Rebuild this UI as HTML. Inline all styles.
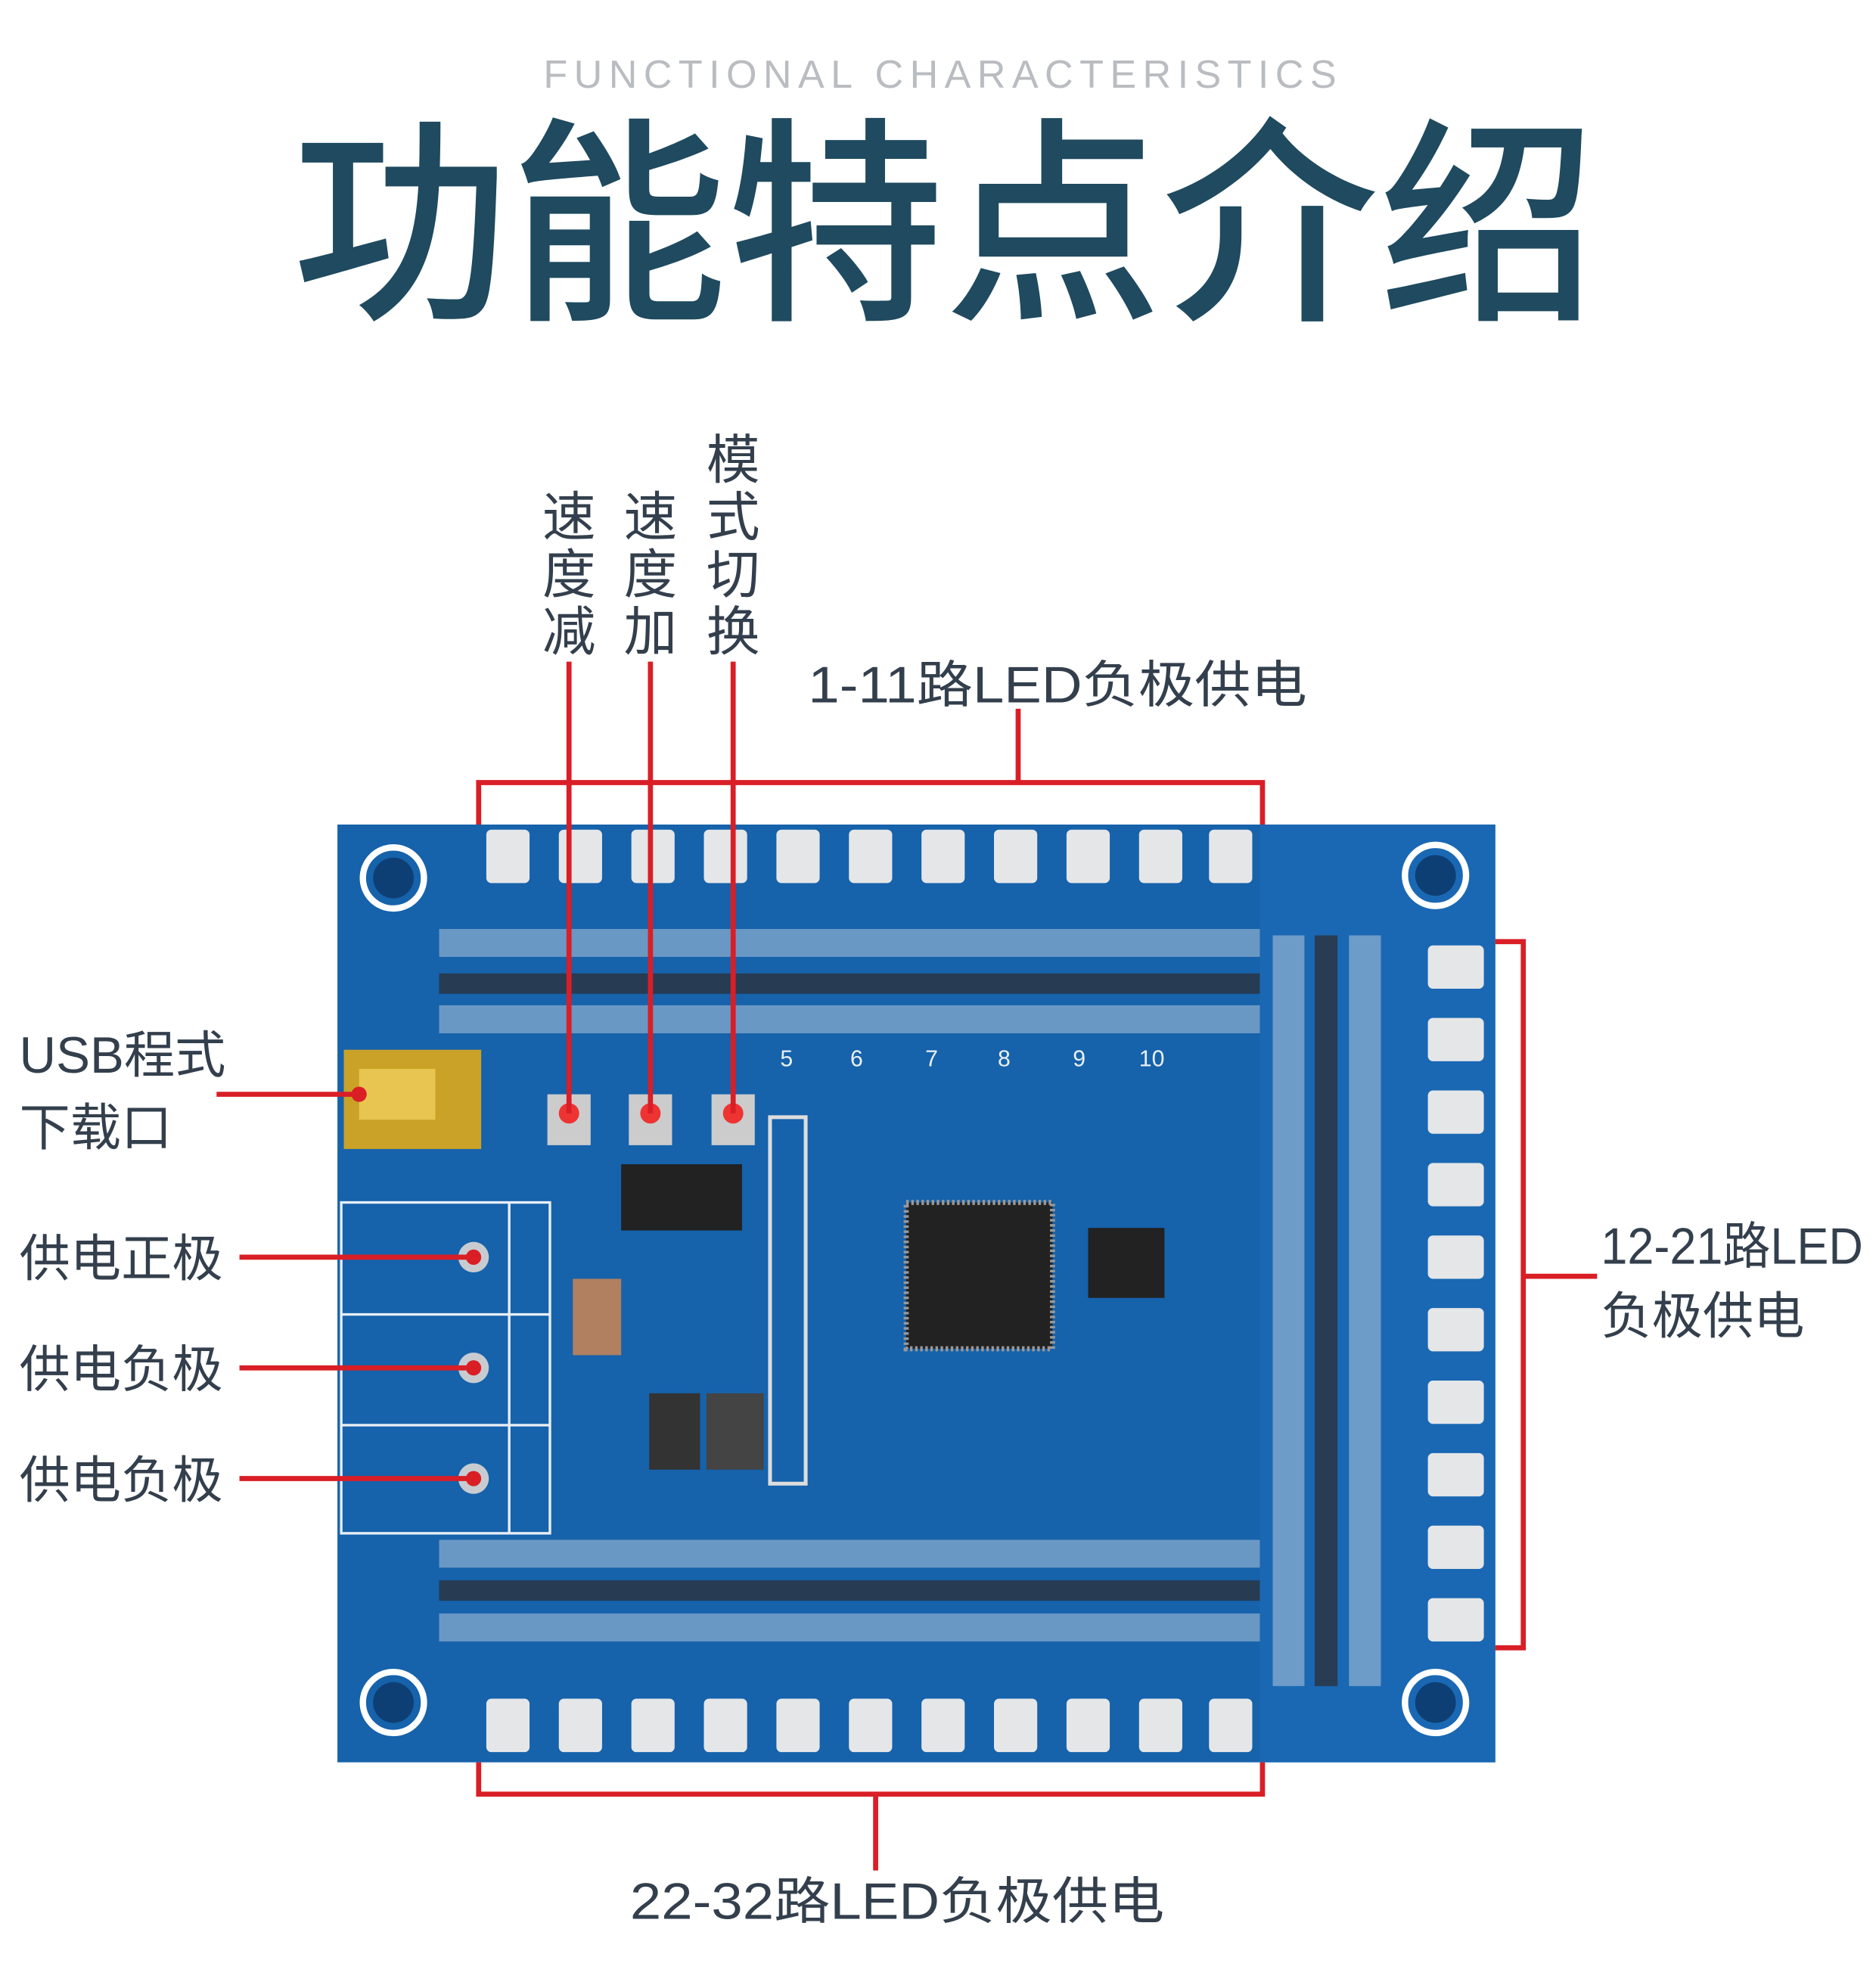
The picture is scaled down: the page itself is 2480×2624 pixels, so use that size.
<!DOCTYPE html>
<html><head><meta charset="utf-8"><style>
html,body{margin:0;padding:0;background:#fff}
svg{display:block}
text{font-family:"Liberation Sans","Noto Sans CJK SC",sans-serif}
</style></head><body>
<svg width="2480" height="2624" viewBox="0 0 1474 1560" xmlns="http://www.w3.org/2000/svg">
<rect width="1474" height="1560" fill="#fff"/>
<text x="741" y="69" text-anchor="middle" font-size="31" fill="#b9bcc0" letter-spacing="5">FUNCTIONAL CHARACTERISTICS</text>
<text x="742" y="238" text-anchor="middle" font-size="172" font-weight="500" fill="#1f4a5f" textLength="1025" lengthAdjust="spacingAndGlyphs">功能特点介绍</text>

<rect x="265" y="648" width="910" height="737" fill="#1662ab"/>
<rect x="990" y="648" width="185" height="737" fill="#1a68b3"/>
<g fill="none" stroke="#fff" stroke-width="5">
<circle cx="309" cy="690" r="24"/><circle cx="1128" cy="688" r="24"/>
<circle cx="309" cy="1338" r="24"/><circle cx="1128" cy="1338" r="24"/>
</g>
<g fill="#0e3f74"><circle cx="309" cy="690" r="16"/><circle cx="1128" cy="688" r="16"/><circle cx="309" cy="1338" r="16"/><circle cx="1128" cy="1338" r="16"/></g>
<g fill="#e4e6e8">
<rect x="382" y="652" width="34" height="42" rx="4"/><rect x="439" y="652" width="34" height="42" rx="4"/><rect x="496" y="652" width="34" height="42" rx="4"/><rect x="553" y="652" width="34" height="42" rx="4"/><rect x="610" y="652" width="34" height="42" rx="4"/><rect x="667" y="652" width="34" height="42" rx="4"/><rect x="724" y="652" width="34" height="42" rx="4"/><rect x="781" y="652" width="34" height="42" rx="4"/><rect x="838" y="652" width="34" height="42" rx="4"/><rect x="895" y="652" width="34" height="42" rx="4"/><rect x="950" y="652" width="34" height="42" rx="4"/>
<rect x="382" y="1335" width="34" height="42" rx="4"/><rect x="439" y="1335" width="34" height="42" rx="4"/><rect x="496" y="1335" width="34" height="42" rx="4"/><rect x="553" y="1335" width="34" height="42" rx="4"/><rect x="610" y="1335" width="34" height="42" rx="4"/><rect x="667" y="1335" width="34" height="42" rx="4"/><rect x="724" y="1335" width="34" height="42" rx="4"/><rect x="781" y="1335" width="34" height="42" rx="4"/><rect x="838" y="1335" width="34" height="42" rx="4"/><rect x="895" y="1335" width="34" height="42" rx="4"/><rect x="950" y="1335" width="34" height="42" rx="4"/>
<rect x="1122" y="743" width="44" height="34" rx="4"/><rect x="1122" y="800" width="44" height="34" rx="4"/><rect x="1122" y="857" width="44" height="34" rx="4"/><rect x="1122" y="914" width="44" height="34" rx="4"/><rect x="1122" y="971" width="44" height="34" rx="4"/><rect x="1122" y="1028" width="44" height="34" rx="4"/><rect x="1122" y="1085" width="44" height="34" rx="4"/><rect x="1122" y="1142" width="44" height="34" rx="4"/><rect x="1122" y="1199" width="44" height="34" rx="4"/><rect x="1122" y="1256" width="44" height="34" rx="4"/>
</g>
<g fill="#2b3444" opacity="0.85">
<rect x="345" y="730" width="645" height="22" fill="#dfe3e8" opacity="0.5"/>
<rect x="345" y="765" width="645" height="16"/>
<rect x="345" y="790" width="645" height="22" fill="#dfe3e8" opacity="0.5"/>
<rect x="345" y="1210" width="645" height="22" fill="#dfe3e8" opacity="0.5"/>
<rect x="345" y="1242" width="645" height="16"/>
<rect x="345" y="1268" width="645" height="22" fill="#dfe3e8" opacity="0.5"/>
<rect x="1000" y="735" width="25" height="590" fill="#dfe3e8" opacity="0.5"/>
<rect x="1033" y="735" width="18" height="590"/>
<rect x="1060" y="735" width="25" height="590" fill="#dfe3e8" opacity="0.5"/>
</g>
<rect x="270" y="825" width="108" height="78" fill="#c9a227"/>
<rect x="282" y="840" width="60" height="40" fill="#e8c550"/>
<g fill="none" stroke="#e8eef5" stroke-width="2">
<rect x="268" y="945" width="164" height="260"/>
<line x1="268" y1="1033" x2="432" y2="1033"/><line x1="268" y1="1120" x2="432" y2="1120"/>
<line x1="400" y1="945" x2="400" y2="1205"/>
</g>
<g fill="#c8ccd0"><circle cx="372" cy="988" r="12"/><circle cx="372" cy="1075" r="12"/><circle cx="372" cy="1162" r="12"/></g>
<g fill="#ccc"><rect x="430" y="860" width="34" height="40"/><rect x="494" y="860" width="34" height="40"/><rect x="559" y="860" width="34" height="40"/></g>
<g fill="#e33"><circle cx="447" cy="875" r="8"/><circle cx="511" cy="875" r="8"/><circle cx="576" cy="875" r="8"/></g>
<rect x="488" y="915" width="95" height="52" fill="#222"/>
<rect x="712" y="945" width="115" height="115" fill="#222" stroke="#999" stroke-width="4" stroke-dasharray="2 2"/>
<rect x="855" y="965" width="60" height="55" fill="#222"/>
<rect x="605" y="878" width="28" height="288" fill="none" stroke="#ddd" stroke-width="3"/>
<rect x="510" y="1095" width="40" height="60" fill="#333"/><rect x="555" y="1095" width="45" height="60" fill="#444"/>
<rect x="450" y="1005" width="38" height="60" fill="#b08060"/>
<g fill="#fff" font-size="18" opacity="0.9">
<text x="613" y="838">5</text><text x="668" y="838">6</text><text x="727" y="838">7</text><text x="784" y="838">8</text><text x="843" y="838">9</text><text x="895" y="838">10</text>
</g>
<g stroke="#d91e26" stroke-width="4" fill="none">
<line x1="447" y1="520" x2="447" y2="875"/><line x1="511" y1="520" x2="511" y2="875"/><line x1="576" y1="520" x2="576" y2="875"/>
<polyline points="376,648 376,615 992,615 992,648"/><line x1="800" y1="557" x2="800" y2="615"/>
<polyline points="1175,740 1197,740 1197,1295 1175,1295"/><line x1="1197" y1="1003" x2="1255" y2="1003"/>
<polyline points="376,1385 376,1410 992,1410 992,1385"/><line x1="688" y1="1410" x2="688" y2="1470"/>
<line x1="170" y1="860" x2="282" y2="860"/>
<line x1="188" y1="988" x2="372" y2="988"/><line x1="188" y1="1075" x2="372" y2="1075"/><line x1="188" y1="1162" x2="372" y2="1162"/>
</g>
<g fill="#d91e26"><circle cx="372" cy="988" r="6"/><circle cx="372" cy="1075" r="6"/><circle cx="372" cy="1162" r="6"/><circle cx="282" cy="860" r="6"/></g>
<g fill="#333f4c" font-size="42">
<text x="447" y="421" text-anchor="middle">速</text><text x="447" y="466" text-anchor="middle">度</text><text x="447" y="511" text-anchor="middle">减</text>
<text x="511" y="421" text-anchor="middle">速</text><text x="511" y="466" text-anchor="middle">度</text><text x="511" y="511" text-anchor="middle">加</text>
<text x="576" y="376" text-anchor="middle">模</text><text x="576" y="421" text-anchor="middle">式</text><text x="576" y="466" text-anchor="middle">切</text><text x="576" y="511" text-anchor="middle">换</text>
<text x="635" y="552" font-size="40" textLength="392" lengthAdjust="spacingAndGlyphs">1-11路LED负极供电</text>
<text x="1258" y="993" font-size="40" textLength="206" lengthAdjust="spacingAndGlyphs">12-21路LED</text>
<text x="1258" y="1048" font-size="40">负极供电</text>
<text x="495" y="1508" font-size="40" textLength="420" lengthAdjust="spacingAndGlyphs">22-32路LED负极供电</text>
<text x="15" y="843" font-size="40">USB程式</text>
<text x="15" y="900" font-size="40">下载口</text>
<text x="15" y="1003" font-size="40">供电正极</text>
<text x="15" y="1090" font-size="40">供电负极</text>
<text x="15" y="1177" font-size="40">供电负极</text>
</g>
</svg>
</body></html>
